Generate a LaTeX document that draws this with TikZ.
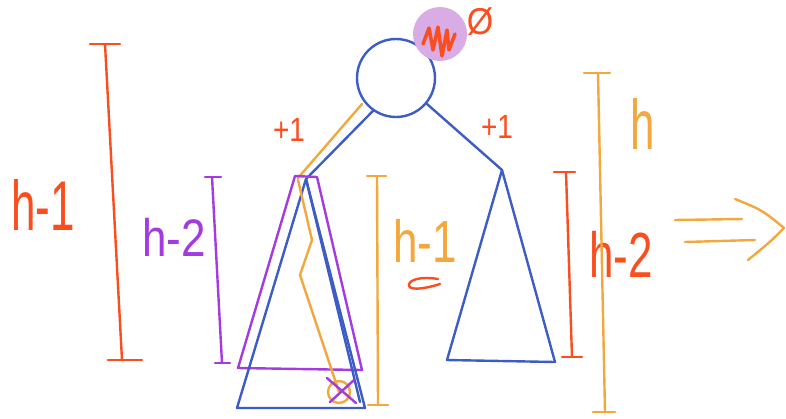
\documentclass[tikz,border=0pt]{standalone}
\usepackage{fontspec}
\usepackage{graphicx}
\setmainfont{Liberation Sans}
\definecolor{redo}{HTML}{FA4E1E}
\definecolor{orng}{HTML}{F2A83C}
\definecolor{blu}{HTML}{3D5CC4}
\definecolor{purp}{HTML}{A33BE0}
\definecolor{blob}{HTML}{D9ACE6}
\newcommand\tallt[2]{\scalebox{1}[#1]{#2}}
\begin{document}
\begin{tikzpicture}[x=1pt,y=-1pt,line cap=round,line join=round,
  stroke/.style={line width=2.4pt},
  lbl/.style={inner sep=0pt,font=\fontsize{44}{44}\selectfont},
  small/.style={inner sep=0pt,font=\fontsize{28}{28}\selectfont}]
\useasboundingbox (0,0) rectangle (786,418);
\fill[white] (0,0) rectangle (786,418);
% root
\node[circle,draw=blu,stroke,minimum size=78pt,inner sep=0pt] (root) at (396,78) {};
\fill[blob] (440,34) circle (27);
\draw[redo,line width=3.5pt] (423,44) -- (429,28) -- (433,50) -- (438,27) -- (442,56) -- (447,30) -- (449,50) -- (455,34);
\node[inner sep=0pt,text=redo,font=\fontsize{34}{34}\selectfont] (zero) at (480,22) {\tallt{1.1}{Ø}};
% subtree apexes and bases
\coordinate (Lt) at (306,179);
\coordinate (Lbl) at (237,408);
\coordinate (Lbr) at (365,408);
\coordinate (Rt) at (502,170);
\coordinate (Rbl) at (447,360);
\coordinate (Rbr) at (555,362);
% edges
\draw[orng,stroke] (362,104) -- (298,178);
\draw[blu,stroke] (root.-125) -- (Lt);
\draw[blu,stroke] (root.-40) -- (Rt);
% purple triangle
\draw[purp,stroke] (295,176) -- (317,177) -- (362,370) -- (238,368) -- cycle;
% left blue triangle
\draw[blu,stroke] (Lt) -- (Lbl) -- (Lbr) -- cycle;
\draw[blu,stroke] (Lt) -- (360,402);
% right blue triangle
\draw[blu,stroke] (Rt) -- (Rbl) -- (Rbr) -- cycle;
% orange zigzag path
\coordinate (zz) at (339,392);
\draw[orng,stroke] (298,180) -- (312,240) -- (300,275) -- (zz);
\draw[orng,stroke] (zz) circle (11);
\draw[purp,stroke] (327,378) -- (356,403) (330,402) -- (354,380);
% +1 labels
\node[small,text=redo] (p1) at (289,130) {\tallt{1.2}{+1}};
\node[small,text=redo] (p2) at (497,127) {\tallt{1.2}{+1}};
% left red bar h-1
\coordinate (a1) at (105,44); \coordinate (a2) at (122,360);
\draw[redo,stroke] (a1) -- (a2);
\draw[redo,stroke] ([xshift=-15]a1) -- ([xshift=15]a1);
\draw[redo,stroke] ([xshift=-14]a2) -- ([xshift=20]a2);
\node[lbl,text=redo] (t1) at (43,205) {\tallt{1.6}{h-1}};
% purple bar h-2
\coordinate (b1) at (212,177); \coordinate (b2) at (222,363);
\draw[purp,stroke] (b1) -- (b2);
\draw[purp,stroke] ([xshift=-7]b1) -- ([xshift=9]b1);
\draw[purp,stroke] ([xshift=-7]b2) -- ([xshift=8]b2);
\node[lbl,text=purp] (t2) at (174,237) {\tallt{1.2}{h-2}};
% orange middle bar h-1
\coordinate (c1) at (377,176); \coordinate (c2) at (378,405);
\draw[orng,stroke] (c1) -- (c2);
\draw[orng,stroke] ([xshift=-10]c1) -- ([xshift=9]c1);
\draw[orng,stroke] ([xshift=-10]c2) -- ([xshift=10]c2);
\node[lbl,text=orng] (t3) at (425,241) {\tallt{1.35}{h-1}};
\draw[redo,stroke] (438,279) .. controls (420,276) and (408,280) .. (409,286) .. controls (411,291) and (428,288) .. (440,284);
% right red bar h-2
\coordinate (d1) at (566,172); \coordinate (d2) at (572,357);
\draw[redo,stroke] (d1) -- (d2);
\draw[redo,stroke] ([xshift=-12]d1) -- ([xshift=9]d1);
\draw[redo,stroke] ([xshift=-10]d2) -- ([xshift=10]d2);
\node[lbl,text=redo] (t4) at (621,254) {\tallt{1.45}{h-2}};
% right orange bar h
\coordinate (e1) at (598,73); \coordinate (e2) at (605,412);
\draw[orng,stroke] (e1) -- (e2);
\draw[orng,stroke] ([xshift=-14]e1) -- ([xshift=12]e1);
\draw[orng,stroke] ([xshift=-12]e2) -- ([xshift=10]e2);
\node[lbl,text=orng] (t5) at (643,124) {\tallt{1.6}{h}};
% double arrow
\coordinate (f1) at (675,220); \coordinate (f2) at (742,219);
\coordinate (g1) at (685,242); \coordinate (g2) at (755,240);
\coordinate (h1) at (735,199); \coordinate (h2) at (784,228); \coordinate (h3) at (748,260);
\draw[orng,stroke] (f1) -- (f2);
\draw[orng,stroke] (g1) -- (g2);
\draw[orng,stroke] (h1) .. controls (762,210) .. (h2) .. controls (770,242) .. (h3);
\end{tikzpicture}
\end{document}
